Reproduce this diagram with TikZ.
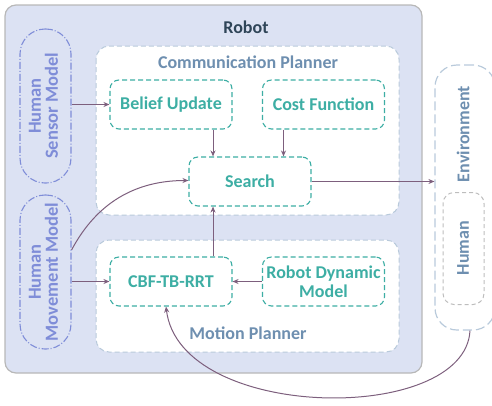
\documentclass[tikz,border=0pt]{standalone}
\usepackage{fontspec}
\setmainfont{Carlito}
\usetikzlibrary{arrows.meta}
\definecolor{robotfill}{HTML}{DCE2F3}
\definecolor{robotline}{HTML}{B8B8B8}
\definecolor{plannerline}{HTML}{B9CADB}
\definecolor{teal}{HTML}{3DAEA4}
\definecolor{modelc}{HTML}{7F8DD8}
\definecolor{steel}{HTML}{6E8FB0}
\definecolor{humanline}{HTML}{BDBDBD}
\definecolor{arrc}{HTML}{7D5F7D}
\definecolor{robottext}{HTML}{2F4558}
\tikzset{
  block/.style={draw=teal, line width=1.1pt, dash pattern=on 5pt off 3pt, rounded corners=9pt, fill=white,
    minimum width=122pt, minimum height=49pt, inner sep=1pt, text=teal, font=\fontsize{18}{19.5}\selectfont\bfseries, align=center},
  capsule/.style={draw=modelc, line width=1.1pt, dash pattern=on 7pt off 2pt on 1pt off 2pt, rounded corners=25pt,
    minimum width=51pt, minimum height=154pt, inner sep=0pt, text=modelc, font=\fontsize{18.5}{19}\selectfont\bfseries},
  planner/.style={draw=plannerline, line width=1pt, dash pattern=on 5pt off 3pt, rounded corners=13pt, fill=white},
  plabel/.style={text=steel, font=\fontsize{18}{19}\selectfont\bfseries},
  arr/.style={draw=arrc, line width=1pt, -{Stealth[length=6pt,width=5pt]}},
}
\begin{document}
\begin{tikzpicture}[x=1pt,y=-1pt]
\useasboundingbox (0,0) rectangle (492,405);
% robot
\draw[fill=robotfill, draw=robotline, line width=1.2pt, rounded corners=11pt] (5,5) rectangle (422,373);
\node[text=robottext, font=\fontsize{18}{19}\selectfont\bfseries] (robotlbl) at (246,27) {Robot};
% planners
\draw[planner] (96,46) rectangle (399,215);
\node[plabel] (cplbl) at (248,62) {Communication Planner};
\draw[planner] (96,240) rectangle (399,352);
\node[plabel] (mplbl) at (248,333) {Motion Planner};
% blocks
\node[block] (bu) at (171,104.5) {Belief Update};
\node[block] (cf) at (323.5,104.5) {Cost Function};
\node[block] (se) at (250,181.5) {Search};
\node[block] (cbf) at (171,281.5) {CBF-TB-RRT};
\node[block] (rdm) at (323.5,281.5) {Robot Dynamic\\Model};
% capsules
\node[capsule] (hsm) at (45.5,106) {\rotatebox{90}{\begin{tabular}{@{}c@{}}Human\\[-2pt]Sensor Model\end{tabular}}};
\node[capsule] (hmm) at (45.5,272) {\rotatebox{90}{\begin{tabular}{@{}c@{}}Human\\[-2pt]Movement Model\end{tabular}}};
% environment
\node[draw=plannerline, line width=1.2pt, dash pattern=on 9pt off 4pt, rounded corners=22pt, minimum width=60pt, minimum height=265pt, inner sep=0pt] (env) at (465,197.5) {};
\node[text=steel, font=\fontsize{18}{19}\selectfont\bfseries, rotate=90] (envlbl) at (463,134) {Environment};
\node[draw=humanline, line width=1pt, dash pattern=on 4pt off 3pt, rounded corners=11pt, minimum width=41pt, minimum height=112pt, inner sep=0pt] (hu) at (463.5,248.5) {};
\node[text=steel, font=\fontsize{18}{19}\selectfont\bfseries, rotate=90] (hulbl) at (463,248) {Human};
% arrows
\draw[arr] (hsm.east |- bu.west) -- (bu.west);
\draw[arr] (bu.south -| 213,0) -- (se.north -| 213,0);
\draw[arr] (cf.south) ++(-40,0) coordinate (cfs) -- (cfs |- se.north);
\draw[arr] (se.east) -- (se.east -| env.west);
\draw[arr] ([yshift=22pt]hmm.east) to[out=62,in=180] ([yshift=1pt]se.west);
\draw[arr] (hmm.east |- cbf.west) -- (cbf.west);
\draw[arr] (rdm.west) -- (cbf.east);
\draw[arr] (cbf.north -| 213,0) -- (se.south -| 213,0);
\draw[arr] ([xshift=5pt]env.south) .. controls (465,425) and (180,422) .. ([xshift=-5pt]cbf.south);
\end{tikzpicture}
\end{document}
